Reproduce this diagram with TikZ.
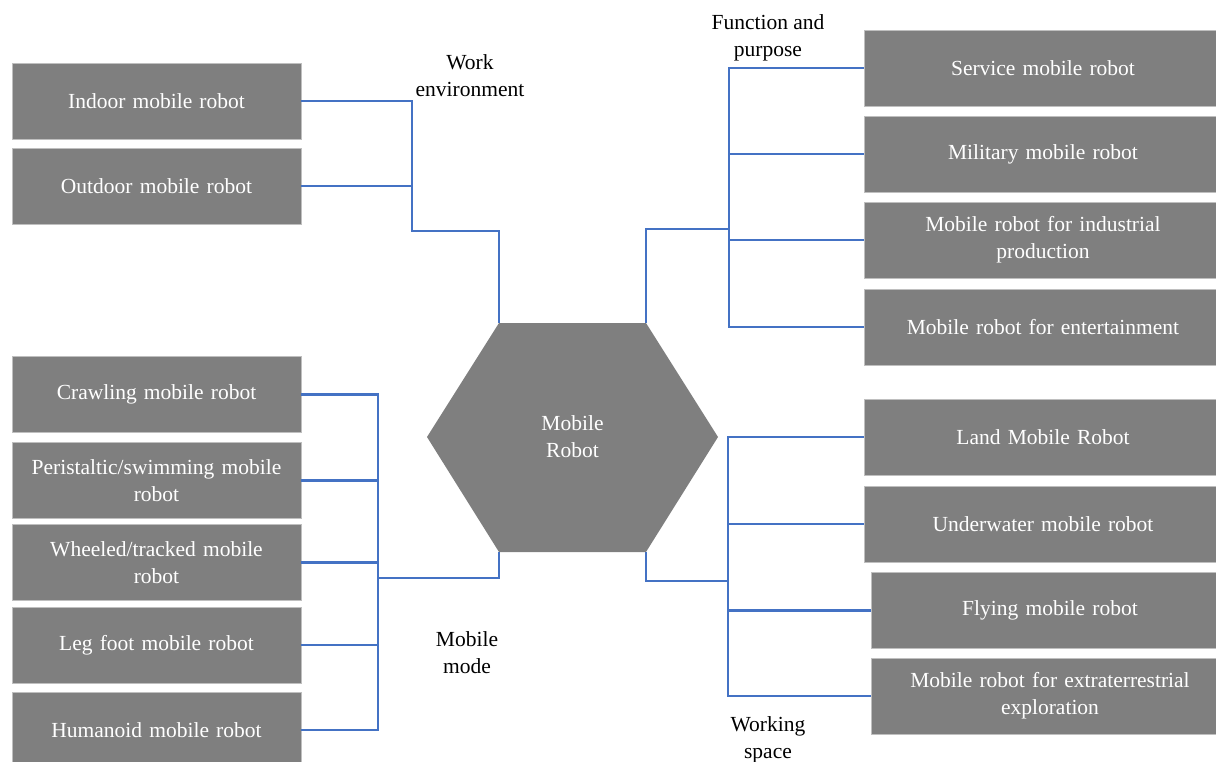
\documentclass[tikz,border=0pt]{standalone}
\usepackage{fontspec}
\setmainfont{Liberation Serif}
\definecolor{boxgray}{HTML}{7F7F7F}
\definecolor{boxedge}{HTML}{BFBFBF}
\definecolor{connblue}{HTML}{4472C4}
\begin{document}
\begin{tikzpicture}[x=1pt,y=-1pt,
  box/.style={rectangle, fill=boxgray, draw=boxedge, line width=0.8pt, text=white,
    align=center, inner sep=0pt, font=\fontsize{21.5}{27}\selectfont},
  lbox/.style={box, minimum width=289pt, minimum height=76pt, text width=270pt},
  rbox/.style={box, minimum width=358pt, minimum height=76pt, text width=300pt},
  fbox/.style={box, minimum width=358pt, minimum height=76pt, text width=300pt},
  conn/.style={draw=connblue, line width=2.2pt},
  lab/.style={align=center, inner sep=0pt, font=\fontsize{21.5}{27}\selectfont}]
\useasboundingbox (0,0) rectangle (1216,762);
% left top
\node[lbox] (indoor) at (156.5,101) {Indoor mobile robot};
\node[lbox] (outdoor) at (156.5,186) {Outdoor mobile robot};
% left bottom
\node[lbox] (crawl) at (156.5,394.5) {Crawling mobile robot};
\node[lbox] (peri) at (156.5,480.5) {Peristaltic/swimming mobile\\robot};
\node[lbox] (wheel) at (156.5,562.5) {Wheeled/tracked mobile\\robot};
\node[lbox] (leg) at (156.5,645) {Leg foot mobile robot};
\node[lbox] (human) at (156.5,730) {Humanoid mobile robot};
% right top
\node[rbox] (service) at (1043,68) {Service mobile robot};
\node[rbox] (military) at (1043,154) {Military mobile robot};
\node[rbox] (indust) at (1043,240) {Mobile robot for industrial\\production};
\node[rbox] (entert) at (1043,327) {Mobile robot for entertainment};
% right bottom
\node[rbox] (land) at (1043,437) {Land Mobile Robot};
\node[rbox] (under) at (1043,524) {Underwater mobile robot};
\node[fbox] (fly) at (1050,610.5) {Flying mobile robot};
\node[fbox] (extra) at (1050,696) {Mobile robot for extraterrestrial\\exploration};
% hexagon
\coordinate (hTL) at (499,323);
\coordinate (hTR) at (646,323);
\coordinate (hR) at (718,437);
\coordinate (hBR) at (646,552);
\coordinate (hBL) at (499,552);
\coordinate (hL) at (427,437);
\fill[boxgray] (hTL) -- (hTR) -- (hR) -- (hBR) -- (hBL) -- (hL) -- cycle;
\node[lab, text=white] (hex) at (572.5,437) {Mobile\\Robot};
% labels
\node[lab] (wlab) at (470,76) {Work\\environment};
\node[lab] (flab) at (768,38) {Function and\\purpose};
\node[lab] (mlab) at (467,653) {Mobile\\mode};
\node[lab] (slab) at (768,740) {Working\\space};
% connectors: work environment
\coordinate (we) at (412,231);
\draw[conn] (indoor.east) -| (we) -| (hTL);
\draw[conn] (outdoor.east) -- (outdoor.east -| we);
% function and purpose
\coordinate (fp) at (729,229);
\draw[conn] (hTR) |- (fp);
\draw[conn] (service.west) -| (fp);
\draw[conn] (entert.west) -| (fp);
\draw[conn] (military.west) -- (military.west -| fp);
\draw[conn] (indust.west) -- (indust.west -| fp);
% mobile mode
\coordinate (mm) at (378,578);
\draw[conn] (hBL) |- (mm);
\draw[conn] (crawl.east) -| (mm);
\draw[conn] (human.east) -| (mm);
\draw[conn] (peri.east) -- (peri.east -| mm);
\draw[conn] (wheel.east) -- (wheel.east -| mm);
\draw[conn] (leg.east) -- (leg.east -| mm);
% working space
\coordinate (ws) at (728,581);
\draw[conn] (hBR) |- (ws);
\draw[conn] (land.west) -| (ws);
\draw[conn] (extra.west) -| (ws);
\draw[conn] (under.west) -- (under.west -| ws);
\draw[conn] (fly.west) -- (fly.west -| ws);
\end{tikzpicture}
\end{document}
